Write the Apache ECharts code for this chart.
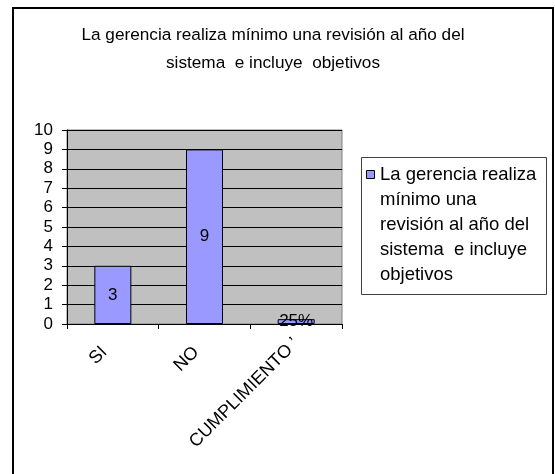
<!DOCTYPE html>
<html>
<head>
<meta charset="utf-8">
<script src="https://cdn.jsdelivr.net/npm/echarts@6/dist/echarts.min.js"></script>
<style>html,body{margin:0;padding:0;background:#fff;}#c{width:555px;height:474px;}</style>
</head>
<body>
<div id="c"></div>
<script>
const titleLines = ['La gerencia realiza mínimo una revisión al año del', 'sistema  e incluye  objetivos'];
const categories = ['SI', 'NO', 'CUMPLIMIENTO ’'];
const values = [3, 9, 0.25];
const valueLabels = ['3', '9', '25%'];
const seriesName = 'La gerencia realiza mínimo una revisión al año del sistema  e incluye objetivos';
const legendLines = ['La gerencia realiza', 'mínimo una', 'revisión al año del', 'sistema  e incluye', 'objetivos'];
const yTicks = [0, 1, 2, 3, 4, 5, 6, 7, 8, 9, 10];

const FONT = '"Liberation Sans", Arial, sans-serif';
const labelPad = [[0, 12, 0, 0], [0, 12, 0, 0], [0, 0, 0, 0]];
const chart = echarts.init(document.getElementById('c'), null, {renderer: 'canvas'});
chart.setOption({
  animation: false,
  backgroundColor: '#fff',
  title: {
    text: titleLines.join('\n'),
    left: 268, top: 16, textAlign: 'center',
    textStyle: {fontFamily: FONT, fontSize: 17.2, fontWeight: 'normal', color: '#000', lineHeight: 28}
  },
  grid: {left: 67, right: 213, top: 130, bottom: 150, show: true, backgroundColor: '#c0c0c0', borderColor: '#808080', borderWidth: 1},
  xAxis: {
    type: 'category',
    data: categories.map((c, i) => ({value: c, textStyle: {padding: labelPad[i]}})),
    axisLine: {lineStyle: {color: '#000', width: 1}},
    axisTick: {show: true, length: 5, lineStyle: {color: '#000'}},
    axisLabel: {rotate: 45, margin: 17, fontFamily: FONT, fontSize: 18, color: '#000', interval: 0}
  },
  yAxis: {
    type: 'value', min: yTicks[0], max: yTicks[yTicks.length - 1], interval: 1,
    axisLine: {show: true, lineStyle: {color: '#000', width: 1}},
    axisTick: {show: true, length: 5, lineStyle: {color: '#000'}},
    axisLabel: {margin: 14, fontFamily: FONT, fontSize: 17, color: '#000'},
    splitLine: {show: true, lineStyle: {color: '#000', width: 1}}
  },
  series: [{
    type: 'bar', name: seriesName, data: values, barWidth: 37,
    itemStyle: {color: '#9999ff', borderColor: '#000', borderWidth: 1},
    label: {show: true, position: 'inside', fontFamily: FONT, fontSize: 17, color: '#000',
      formatter: p => valueLabels[p.dataIndex]}
  }],
  graphic: [
    {type: 'rect', shape: {x: 13, y: 8, width: 540, height: 480}, style: {fill: 'none', stroke: '#000', lineWidth: 2}, silent: true},
    {type: 'rect', shape: {x: 361.5, y: 157.5, width: 185, height: 137}, style: {fill: '#fff', stroke: '#404040', lineWidth: 1}, silent: true},
    {type: 'rect', shape: {x: 366.5, y: 170.5, width: 8, height: 8}, style: {fill: '#9999ff', stroke: '#000', lineWidth: 1}, silent: true},
    {type: 'text', left: 380, top: 162, style: {text: legendLines.join('\n'), font: '18.5px ' + FONT, fill: '#000', lineHeight: 25}, silent: true}
  ]
});
</script>
</body>
</html>
